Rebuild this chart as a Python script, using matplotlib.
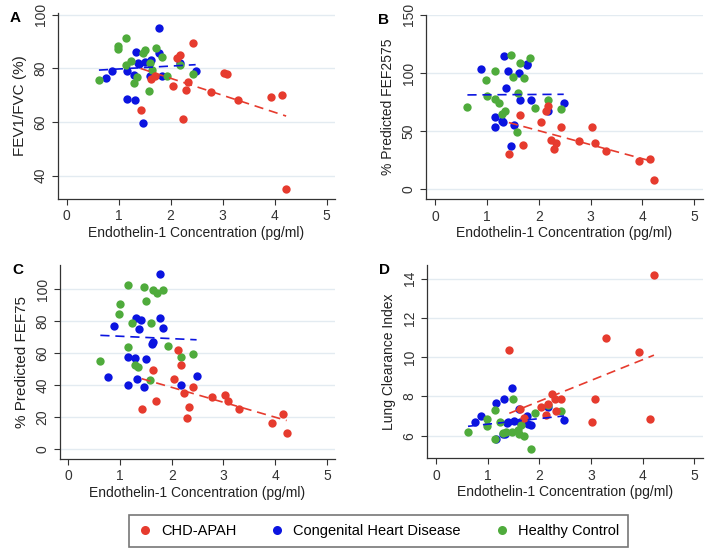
import numpy as np
import matplotlib
matplotlib.use("Agg")
import matplotlib.pyplot as plt
from matplotlib.lines import Line2D

plt.rcParams['font.family'] = ['Liberation Sans', 'DejaVu Sans']

# endothelin-1 concentration (pg/ml), one value per subject
red_x = [1.42, 1.63, 1.70, 2.04, 2.13, 2.17, 2.24, 2.30, 2.33, 2.42, 2.78, 3.02, 3.08, 3.30, 3.93, 4.15, 4.22]
blue_x = [0.76, 0.88, 1.16, 1.16, 1.29, 1.31, 1.33, 1.37, 1.40, 1.47, 1.51, 1.61, 1.63, 1.77, 1.78, 1.84, 2.17, 2.48]
green_x = [0.62, 0.98, 0.99, 1.15, 1.15, 1.23, 1.29, 1.35, 1.47, 1.50, 1.58, 1.60, 1.64, 1.71, 1.83, 1.92, 2.17, 2.42]

# A: FEV1/FVC (%)
red_fev = [64.5, 76, 77, 73.5, 84, 85, 61, 72, 75, 89.6, 71, 78.4, 78, 68.3, 69.4, 70.2, 34.9]
blue_fev = [76.5, 79, 79, 68.4, 77.5, 68.2, 86.2, 81.9, 81.5, 59.5, 82.5, 77, 83, 95, 85.6, 77, 82, 79]
green_fev = [75.7, 88.2, 87.1, 91.3, 81.2, 82.9, 74.5, 76.6, 85.6, 86.8, 71.7, 82, 79.4, 87.5, 84.3, 77, 81.2, 77.9]

# B: % predicted FEF2575
red_fef2575 = [30, 64, 38, 58, 67, 72, 42, 35, 40, 54, 41.5, 53.4, 40, 33, 24, 26.3, 8]
blue_fef2575 = [np.nan, 103.7, 62, 54, 59, 58, 114.6, 87, 101.4, 37.4, 55, 100, 76.6, 106.6, 108, 76.6, 67, 74.3]
green_fef2575 = [70.6, 93.7, 80.3, 101.7, 77.4, 74.6, 65, 67.4, 115.4, 96.9, 49.7, 83.1, 108.6, 95.7, 112.9, 70.3, 77.1, 69.1]

# C: % predicted FEF75
red_fef75 = [25.2, 49.2, 30.2, 44, 61.9, 52.5, 35.2, 19.6, 26.5, 39, 32.7, 33.7, 30.2, 25.2, 16.5, 22.1, 9.8]
blue_fef75 = [44.8, 76.9, 57.7, 40, 57, 81.9, 43.5, 74.8, 80.6, 39, 56.5, 65.6, 66.7, 109.4, 81.7, 75.6, 39.8, 45.8]
green_fef75 = [55, 84.4, 90.4, 102.5, 64, 79, 52.7, 51.5, 101.5, 92.7, 43.1, 79, 99.4, 97.7, 99.4, 64.2, 57.7, 59.2]

# D: lung clearance index
red_lci = [10.36, 7.36, 6.9, 7.47, 7.05, 7.6, 8.15, 7.86, 7.25, 7.86, np.nan, 6.7, 7.88, 11.0, 10.29, 6.85, 14.2]
blue_lci = [6.71, 7.02, 7.68, 5.81, 6.1, 7.85, 6.08, 6.63, 6.7, 8.44, 6.76, 7.34, 6.7, 7.02, 6.6, 6.54, 7.47, 6.8]
green_lci = [6.17, 6.83, 6.51, 7.31, 5.83, 6.68, 6.15, 6.17, 6.2, 7.85, 6.29, 6.08, 6.54, 6.0, 5.32, 7.14, 7.56, 7.27]

group_names = ["CHD-APAH", "Congenital Heart Disease", "Healthy Control"]
RED, BLUE, GREEN = '#e63b2e', '#0b14e0', '#4fab3c'
GRID = '#e3ebf1'
W, H = 709, 552


def box(left, top, right, bottom):
    return [left / W, 1 - bottom / H, (right - left) / W, (bottom - top) / H]


panels = [
    ("A", "FEV1/FVC (%)", 11, red_fev, blue_fev, green_fev,
     box(58, 13, 335, 199), (-0.167, 5.16), (31.3, 100.6), [40, 60, 80, 100]),
    ("B", "% Predicted FEF2575", 10, red_fef2575, blue_fef2575, green_fef2575,
     box(426, 14.7, 703, 199.3), (-0.18, 5.17), (-8.6, 150.2), [0, 50, 100, 150]),
    ("C", "% Predicted FEF75", 11, red_fef75, blue_fef75, green_fef75,
     box(60, 265, 335, 459), (-0.16, 5.155), (-6.25, 115), [0, 20, 40, 60, 80, 100]),
    ("D", "Lung Clearance Index", 10, red_lci, blue_lci, green_lci,
     box(427, 265, 703, 458.3), (-0.174, 5.17), (4.85, 14.7), [6, 8, 10, 12, 14]),
]


def fit_line(ax, xs, ys, color):
    xs = np.asarray(xs, float)
    ys = np.asarray(ys, float)
    ok = ~np.isnan(ys)
    slope, icpt = np.polyfit(xs[ok], ys[ok], 1)
    xx = np.array([xs[ok].min(), xs[ok].max()])
    ax.plot(xx, slope * xx + icpt, color=color, lw=1.2, ls=(0, (5.5, 3.5)), zorder=4)


fig = plt.figure(figsize=(W / 100, H / 100), dpi=100)

for letter, ylabel, yfs, r, b, g, pos, xl, yl, yt in panels:
    ax = fig.add_axes(pos)
    ax.scatter(blue_x, b, s=36, color=BLUE, lw=0, zorder=3)
    ax.scatter(green_x, g, s=36, color=GREEN, lw=0, zorder=3)
    ax.scatter(red_x, r, s=36, color=RED, lw=0, zorder=3)
    # red: CHD-APAH fit, blue: non-PAH subjects (CHD + controls) fit
    fit_line(ax, red_x, r, RED)
    fit_line(ax, blue_x + green_x, list(b) + list(g), BLUE)

    ax.set_xlim(*xl)
    ax.set_ylim(*yl)
    ax.set_xticks([0, 1, 2, 3, 4, 5])
    ax.set_yticks(yt)
    ax.yaxis.grid(True, color=GRID, lw=1.0)
    ax.set_axisbelow(True)
    for s in ['top', 'right']:
        ax.spines[s].set_visible(False)
    for s in ['left', 'bottom']:
        ax.spines[s].set_color('#333333')
        ax.spines[s].set_linewidth(0.9)
    ax.tick_params(colors='#333333', labelsize=10, length=4, width=0.8)
    ax.tick_params(axis='y', labelrotation=90)
    for t in ax.get_yticklabels():
        t.set_va('center')
    ax.set_xlabel("Endothelin-1 Concentration (pg/ml)", fontsize=10, color='#222222', labelpad=2)
    ax.set_ylabel(ylabel, fontsize=yfs, color='#222222', labelpad=5)
    fig.text(pos[0] - 48 / W, pos[1] + pos[3] + 2 / H, letter, fontsize=11,
             fontweight='bold', va='top', ha='left')

handles = [Line2D([], [], ls='none', marker='o', ms=6.5, mec='none', mfc=c) for c in (RED, BLUE, GREEN)]
leg = fig.legend(handles, group_names, loc='center', ncol=3,
                 bbox_to_anchor=(378.5 / W, 1 - 531 / H), fontsize=10.5,
                 frameon=True, fancybox=False, handletextpad=0.6, columnspacing=2.3,
                 handlelength=1.0, borderpad=0.6)
leg.get_frame().set_edgecolor('#555555')
leg.get_frame().set_linewidth(1.2)

fig.savefig("out.png", dpi=100)
